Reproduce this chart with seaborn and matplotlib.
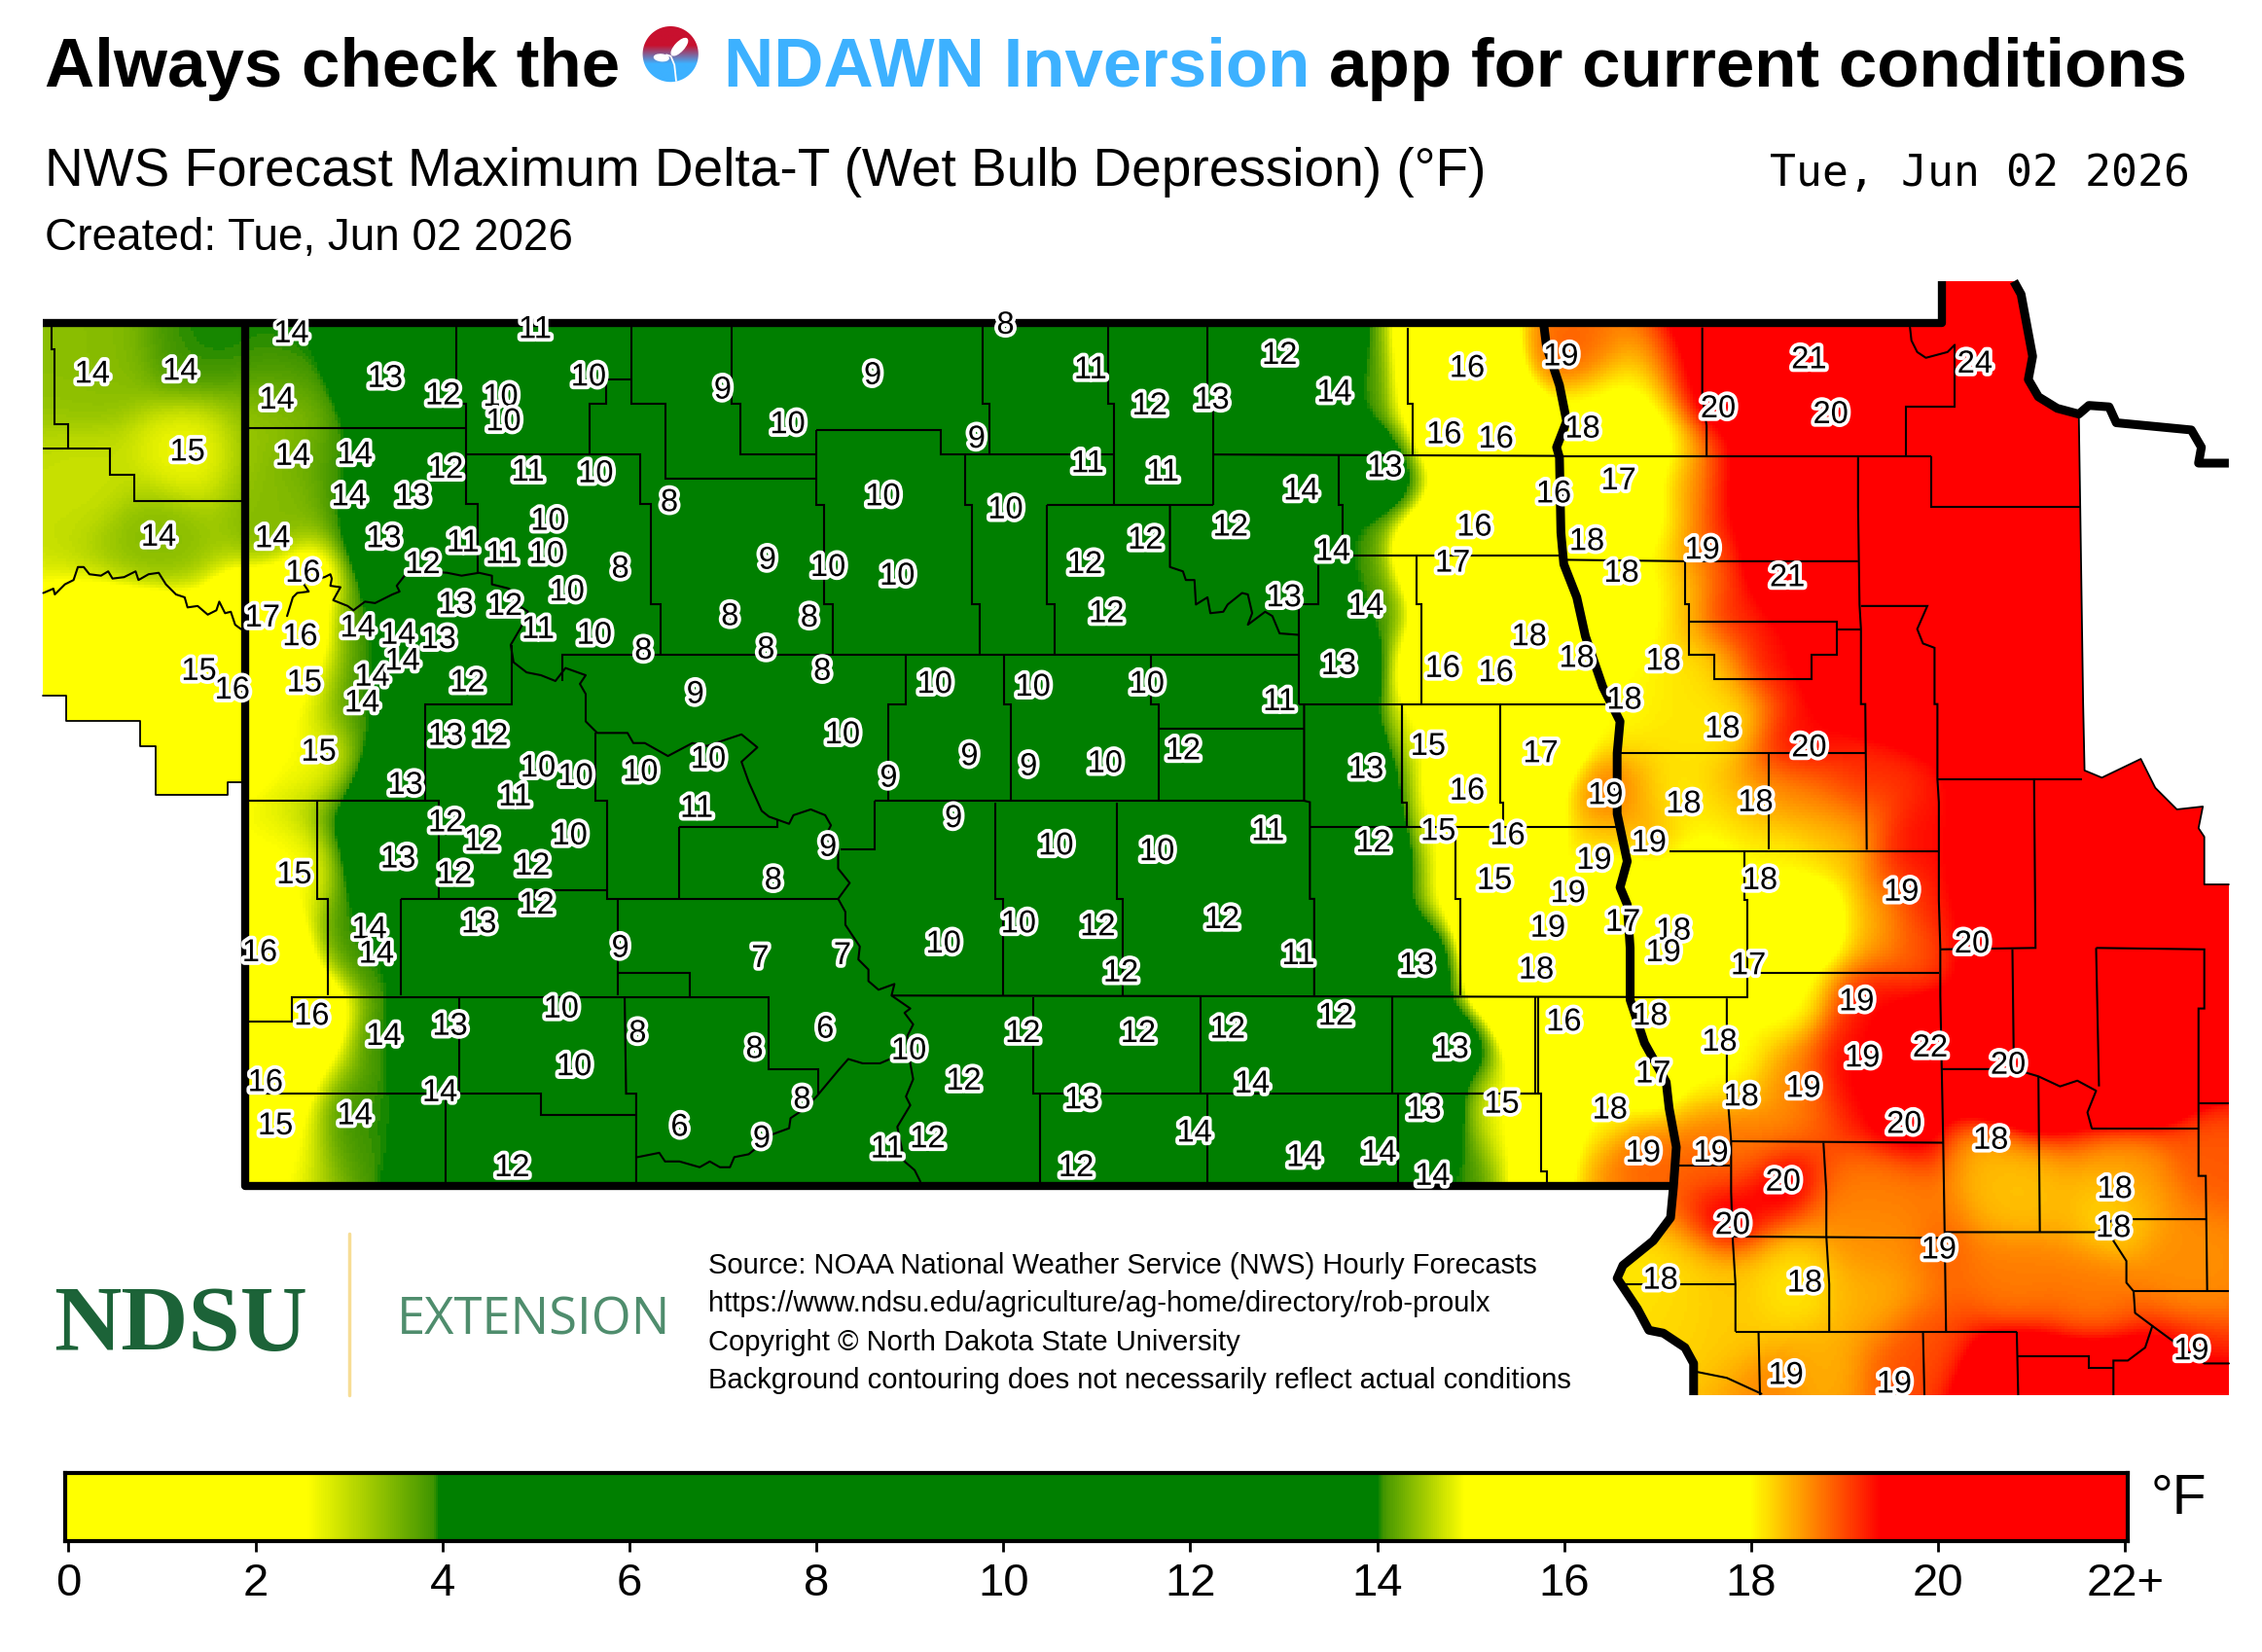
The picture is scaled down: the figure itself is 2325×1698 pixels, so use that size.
import numpy as np
import pandas as pd
import matplotlib
matplotlib.use('Agg')
import matplotlib.pyplot as plt
import matplotlib.patheffects as pe
from matplotlib.colors import LinearSegmentedColormap, to_rgb
from matplotlib.patches import Ellipse
from matplotlib.path import Path
import seaborn as sns

W, H = 1568, 1145

# -------------------------------------------------------------
# station forecasts (label position and delta-T)
# -------------------------------------------------------------
stn_x = [64,125,130,110,138,161,
         202,192,267,307,347,349,371,408,203,246,242,286,309,366,413,464,189,266,293,321,348,379,380,430,
         210,182,208,248,276,304,316,350,393,373,412,446,211,258,279,251,324,221,309,340,281,373,399,357,
         444,491,483,482,309,334,395,276,315,369,204,372,332,256,261,180,430,527,584,216,266,312,389,442,
         398,523,572,184,191,246,305,471,528,556,355,
         501,605,546,677,697,756,797,840,887,925,754,806,612,697,532,574,622,506,561,531,570,752,794,853,
         902,960,767,890,924,947,928,648,716,795,887,584,672,713,766,820,947,616,661,574,536,732,802,879,
         952,706,761,847,654,777,900,982,630,709,789,851,926,1006,668,868,750,828,987,1041,615,643,746,904,956,993,
         1017,1001,1037,1022,1007,1060,1000,1037,990,1017,1068,997,1045,1036,1087,1105,1113,1073,1065,1084,1116,1139,
         1082,1097,1122,1077,1100,1124,1180,1239,1093,1153,1126,1194,1254,1167,1217,1143,1220,1318,1125,1160,1153,1212,
         1367,1287,1144,1192,1146,1291,1338,1392,1207,1250,1320,1380,1186,1236,1201,1466,1465,1344,1151,1251,1519,1238,1313,
         1254,1191,1269,1369]
stn_y = [259,257,313,372,465,478,
         231,277,262,274,275,292,228,261,316,315,344,344,325,327,328,348,373,373,391,376,384,384,361,394,
         397,428,441,435,440,443,419,420,410,436,440,451,473,469,458,487,473,521,510,510,544,532,538,552,
         535,526,560,481,570,583,579,595,606,600,606,627,640,644,661,660,657,664,662,704,718,711,699,716,
         739,727,713,750,780,773,757,781,789,762,809,
         270,260,294,304,225,256,281,277,246,272,321,327,344,353,388,393,399,427,428,450,465,391,374,365,
         340,324,425,414,382,420,461,474,476,474,486,509,524,531,529,520,533,539,567,587,610,586,590,576,
         584,640,642,637,654,674,662,669,728,716,716,713,704,727,749,751,762,785,769,765,796,789,809,802,799,815,
         255,301,304,365,390,441,463,466,517,548,522,576,579,610,619,596,551,643,672,708,769,799,
         247,297,333,342,375,397,381,400,456,458,485,505,518,557,556,584,610,618,639,645,660,669,
         654,694,704,722,744,733,726,738,760,754,779,790,799,819,849,824,851,866,887,889,936,953,959,
         249,283,287,252]
stn_val = [14,14,15,14,15,16,
           14,14,13,12,10,10,11,10,14,14,14,13,12,11,10,8,14,13,12,11,11,10,10,8,
           16,17,16,14,14,13,13,12,10,11,10,8,15,14,14,14,12,15,13,12,13,10,10,11,
           10,10,11,9,12,12,10,13,12,12,15,12,13,14,14,16,9,7,7,16,14,13,10,8,
           10,8,6,16,15,14,14,6,9,8,12,
           9,9,10,9,8,11,12,13,12,14,11,11,10,10,9,10,10,8,8,8,8,12,12,12,
           14,13,12,13,14,14,13,10,10,10,11,10,9,9,10,12,13,9,9,9,8,10,10,11,
           12,10,12,12,10,12,11,13,10,12,12,12,12,13,12,14,13,14,13,15,11,12,12,14,14,14,
           16,16,16,16,17,18,16,16,15,16,17,15,16,15,19,19,19,19,18,16,18,19,
           19,18,17,16,18,18,19,21,18,18,18,18,20,18,18,19,18,19,17,18,19,17,
           20,19,18,18,17,19,22,20,18,19,20,18,19,20,20,18,18,19,18,18,19,19,19,
           21,20,20,24]

# points with no label that steer the background shading
fld_x = [150,60,50,110,130,60,100,190,190,
         1400,1500,1450,1420,1300,1300,1400,1500,1400,1480,1250,1300,1240,1520,
         1300,1400,1480,1300,1400,1450,1520,1260,1330,1200,1170,1530,1400,1450,1500,
         1254,1241,1200,1241,1207,1300,1286,1300,1342,1270,1180,1240,1330,
         1140,1140,1170,1207,1140,1165,1200,1183,1231,1200,1241,1240,1281,1329,1270,
         1130,1100,1080,1150,1240,1300]
fld_y = [235,262,235,372,313,330,450,300,345,
         350,620,650,480,330,450,620,720,745,745,230,240,340,650,
         830,825,810,900,890,900,880,950,935,905,900,800,960,965,965,
         640,693,738,753,783,700,740,640,633,580,610,590,650,
         320,350,340,345,420,420,430,458,458,500,515,550,545,588,560,
         620,620,660,650,895,860]
fld_val = [14.0,14.5,14.4,14.45,14.9,14.7,16,14.5,14.4,
           23,21,21,22,22,22,21,21,21,21,21,22,21,21,
           18.7,18.3,18.5,18.4,18.7,18.7,18.6,18.4,19,18.3,18.2,18.9,20.5,20.5,20,
           17,17.8,17.8,18.6,18.8,19.5,19.6,18.3,19.4,18.2,17.8,18,18.8,
           17.5,17.5,18.7,19.5,17.5,18.4,19.4,18,19.4,18,19.4,18.6,19.4,19.4,18.5,
           17.6,17.5,17.5,17.5,18.1,18.6]

cbar_ticks = [0,2,4,6,8,10,12,14,16,18,20,22]
cbar_tick_labels = ['0','2','4','6','8','10','12','14','16','18','20','22+']

source_lines = ['Source: NOAA National Weather Service (NWS) Hourly Forecasts',
                'https://www.ndsu.edu/agriculture/ag-home/directory/rob-proulx',
                'Copyright © North Dakota State University',
                'Background contouring does not necessarily reflect actual conditions']

# -------------------------------------------------------------
# map outlines
# -------------------------------------------------------------
red_river = [(1070,224),(1072,240),(1081,267),(1086,292),(1079,310),(1081,317),(1082,369),(1084,391),(1093,414),(1099,441),
             (1111,476),(1123,500),(1121,522),(1121,564),(1128,597),(1123,615),(1128,627),(1130,657),(1130,693),(1140,723),
             (1155,750),(1157,768),(1162,795),(1160,823),(1158,844),(1146,860),(1125,877),(1121,886),(1135,907),(1143,922),
             (1153,924),(1168,934),(1174,945),(1174,967)]
ne_border = [(1396,195),(1401,204),(1409,247),(1406,263),(1413,275),(1426,283),(1441,287),(1448,281),(1462,282),(1467,293),
             (1519,298),(1526,310),(1524,321),(1545,321)]
nd_border = [(30,224),(1346,224),(1346,195)]
nd_west = [(170,224),(170,822),(1160,822)]
map_edge = [(30,224),(1346,224),(1346,195),(1396,195),(1401,204),(1409,247),(1406,263),(1413,275),(1426,283),(1441,287),
            (1442,351),(1444,487),(1445,534),(1457,539),(1484,526),(1494,546),(1509,561),(1527,559),(1524,574),(1528,580),
            (1528,613),(1545,613),(1545,967),(1174,967),(1174,945),(1168,934),(1153,924),(1143,922),(1135,907),(1121,886),
            (1125,877),(1146,860),(1158,844),(1160,822),(170,822),(170,542),(158,542),(158,551),(108,551),(108,517),(97,517),
            (97,500),(46,500),(46,482),(30,482)]
thin_edge = map_edge[9:22]
mt_edge = map_edge[-10:-1] + [(30,482)]

county_lines = [
    [(36,226),(36,242),(38,242),(38,294),(47,294),(47,311)],
    [(30,311),(76,311),(76,329),(93,329),(93,347),(167,347)],
    [(172,297),(323,297)],
    [(316,226),(316,280),(323,280),(323,349),(331,349),(331,398)],
    [(323,315),(444,315),(444,349),(451,349),(451,419),(458,419),(458,454)],
    [(409,315),(409,280),(420,280),(420,263),(438,263)],
    [(438,226),(438,280),(461,280),(461,332),(566,332)],
    [(507,226),(507,280),(513,280),(513,315),(566,315)],
    [(566,298),(652,298),(652,315),(772,315)],
    [(566,298),(566,350),(571,350),(571,419),(577,419),(577,454)],
    [(681,226),(681,280),(686,280),(686,315)],
    [(669,315),(669,350),(674,350),(674,419),(679,419),(679,454)],
    [(768,226),(768,280),(772,280),(772,350)],
    [(726,350),(841,350)],
    [(726,350),(726,419),(731,419),(731,454)],
    [(837,226),(837,282),(841,282),(841,350)],
    [(841,315),(1080,316)],
    [(928,315),(928,350),(931,350),(931,385)],
    [(931,385),(1082,385)],
    [(902,419),(914,419),(914,392)],
    [(900,420),(900,488)],
    [(390,472),(390,454),(900,454)],
    [(982,385),(982,419),(985,419),(985,488)],
    [(900,488),(1113,488)],
    [(1040,488),(1040,556),(1042,556),(1042,573)],
    [(976,227),(976,280),(979,280),(979,315)],
    [(628,454),(628,488),(616,488),(616,555)],
    [(696,454),(696,488),(701,488),(701,555)],
    [(798,454),(798,488),(803,488),(803,555)],
    [(803,505),(904,505)],
    [(904,488),(904,555),(908,556),(908,623),(911,623),(911,690)],
    [(972,488),(972,556),(975,556),(975,573)],
    [(908,573),(1121,573)],
    [(1009,573),(1009,623),(1012,623),(1012,690)],
    [(618,690),(1127,691)],
    [(1066,691),(1066,758),(1068,758),(1068,812),(1072,812),(1072,821)],
    [(1012,758),(1068,758)],
    [(716,691),(716,758),(1064,758),(1064,691)],
    [(832,691),(832,758)],
    [(965,691),(965,758)],
    [(721,758),(721,820)],
    [(837,758),(837,820)],
    [(969,758),(969,820)],
    [(606,555),(904,555)],
    [(583,589),(606,589),(606,555)],
    [(690,556),(690,623),(695,623),(695,690)],
    [(774,556),(774,623),(778,623),(778,690)],
    [(278,623),(371,623),(371,617),(421,617),(421,623),(581,623)],
    [(471,573),(471,623)],
    [(471,573),(539,573),(539,568)],
    [(413,508),(413,555),(421,555),(421,617)],
    [(428,623),(428,690)],
    [(172,555),(304,555),(304,623)],
    [(355,447),(355,488),(295,488),(295,555)],
    [(220,555),(220,623),(227,623),(227,690)],
    [(278,623),(278,690)],
    [(172,708),(202,708),(202,691),(433,691),(478,691),(478,674),(428,674)],
    [(478,691),(533,691),(533,741),(567,741),(567,758)],
    [(318,691),(318,758)],
    [(172,758),(375,758),(375,773),(441,773)],
    [(309,758),(309,820)],
    [(433,691),(434,758),(441,758),(441,820)],
    # minnesota
    [(1180,227),(1180,274),(1183,295),(1183,316)],
    [(1080,316),(1339,316)],
    [(1321,316),(1321,282),(1355,282),(1355,239)],
    [(1288,317),(1288,351),(1289,419),(1290,436),(1290,488),(1293,488),(1294,589)],
    [(1339,316),(1339,351),(1442,351)],
    [(1086,388),(1168,389),(1288,389)],
    [(1168,389),(1168,419),(1171,419),(1171,454),(1188,454),(1188,471),(1256,471),(1256,454),(1273,454),(1273,431),(1171,431)],
    [(1273,436),(1290,436)],
    [(1290,420),(1336,420),(1329,436),(1333,446),(1341,449),(1341,488),(1343,488),(1343,540),(1344,556),(1344,624),
     (1345,657),(1345,690),(1346,741),(1347,791),(1348,854),(1349,923)],
    [(1343,540),(1443,540)],
    [(1410,540),(1411,657),(1345,658)],
    [(1395,658),(1396,741),(1346,741)],
    [(1453,657),(1528,658),(1528,699),(1524,699),(1524,815),(1529,815),(1530,895)],
    [(1453,657),(1455,753)],
    [(1524,765),(1545,765)],
    [(1450,782),(1524,782)],
    [(1413,746),(1414,854)],
    [(1348,854),(1454,854),(1465,845),(1529,845)],
    [(1479,895),(1545,895)],
    [(1487,934),(1475,943),(1465,943),(1465,967)],
    [(1398,923),(1399,967)],
    [(1399,940),(1448,940),(1448,948),(1465,948)],
    [(1203,923),(1398,923)],
    [(1333,923),(1334,967)],
    [(1219,923),(1220,967)],
    [(1200,857),(1349,858)],
    [(1200,791),(1347,792)],
    [(1264,792),(1266,826),(1266,857),(1268,890),(1268,923)],
    [(1197,692),(1197,753),(1200,791),(1200,826),(1201,857),(1203,890),(1203,923)],
    [(1123,890),(1203,890)],
    [(1160,808),(1199,808)],
    [(1209,591),(1209,624),(1211,624),(1211,691)],
    [(1127,691),(1212,691)],
    [(1219,674),(1344,674)],
    [(1157,590),(1344,590)],
    [(1226,522),(1226,589)],
    [(1123,522),(1293,522)],
]
# rivers used as county lines
river_lines = [
    [(30,411),(37,408),(38,412),(45,405),(51,402),(54,393),(58,393),(62,398),(70,399),(75,396),(78,401),(86,400),(94,396),(96,402),
     (103,398),(110,397),(115,405),(122,412),(128,414),(130,421),(137,420),(144,426),(150,423),(152,417),(156,425),(160,424),(163,433),(167,436)],
    [(199,427),(203,414),(206,411),(214,410),(210,404),(225,400),(229,398),(230,401),(229,406),(236,407),(231,416),(241,420),(245,423),
     (253,417),(260,418),(272,412),(277,410),(275,406),(282,397),(296,396),(310,397),(320,399),(332,397),(341,399),(341,405),(353,408),
     (354,416),(366,424),(361,435),(354,447),(356,459),(365,466),(375,468),(385,472),(392,463),(406,468),(402,474),(406,481),(406,500),
     (414,508),(435,508),(439,515),(447,515),(463,524),(480,515),(490,517),(514,509),(525,518),(514,528),(519,542),(528,562),(533,566),
     (547,571),(550,565),(562,561),(572,565),(576,572),(572,580),(581,589),(581,602),(589,612),(581,623),(586,632),(586,641),(596,656),
     (595,665),(602,672),(602,680),(609,686),(620,682),(618,690),(631,699),(627,702),(633,710),(629,718),(631,737),(633,748),(628,760),
     (631,766),(622,781),(627,805),(634,811),(638,819)],
    [(617,734),(610,737),(598,737),(588,734),(581,742),(571,754),(566,760),(557,769),(548,775),(547,782),(536,786),(519,800),(509,802),
     (506,809),(499,809),(492,805),(485,809),(471,805),(461,805),(457,799),(442,802)],
    [(811,350),(811,393),(820,396),(822,402),(828,402),(829,419),(837,414),(839,425),(848,424),(851,419),(861,411),(865,412),(868,425),
     (865,433),(877,424),(882,427),(887,439),(900,440)],
    [(1324,227),(1325,236),(1329,244),(1335,248),(1350,244),(1355,239)],
    [(1396,741),(1413,746),(1428,753),(1440,749),(1453,756),(1447,771),(1450,782)],
    [(1465,845),(1465,860),(1474,874),(1474,889),(1479,895),(1480,910),(1492,919),(1507,930),(1528,945),(1545,945)],
    [(1492,919),(1487,934)],
    [(1177,951),(1197,955),(1221,966)],
]

# colour scale of the product
cmap_nodes = [(0,'#ffff00'),(2.55,'#ffff00'),(3.9,'#3f9400'),(3.96,'#007f00'),(14.0,'#007f00'),(14.06,'#3f9400'),
              (14.95,'#ffff00'),(18.0,'#ffff00'),(19.4,'#ff0000'),(22,'#ff0000')]
cmap = LinearSegmentedColormap.from_list('deltat', [(v/22, to_rgb(c)) for v, c in cmap_nodes], N=1024)

sns.set_style('white')
plt.rcParams['font.family'] = ['Liberation Sans', 'DejaVu Sans']
plt.rcParams['text.color'] = 'black'

fig = plt.figure(figsize=(23.25, 16.98), dpi=100)

# overlay axes in reference coordinates
ax = fig.add_axes([0, 0, 1, 1], zorder=3)
ax.set_xlim(0, W)
ax.set_ylim(H, 0)
ax.set_axis_off()
ax.patch.set_alpha(0)

# -------------------------------------------------------------
# background shading: distance weighted field of the stations
# -------------------------------------------------------------
MX0, MX1, MY0, MY1 = 30, 1545, 195, 967
gx = np.arange(MX0, MX1, 2) + 1.0
gy = np.arange(MY0, MY1, 2) + 1.0
XX, YY = np.meshgrid(gx, gy)

px = np.array(stn_x + fld_x, dtype=float)
py = np.array(stn_y + fld_y, dtype=float)
pv = np.array(stn_val + fld_val, dtype=float)
pw = np.array([1.0]*len(stn_x) + [4.0]*len(fld_x))

d2 = (XX[..., None] - px)**2 + (YY[..., None] - py)**2
wgt = pw / (d2 + 42.0**2)**3
field = (wgt * pv).sum(axis=-1) / wgt.sum(axis=-1)

ax_map = fig.add_axes([MX0/W, 1 - MY1/H, (MX1-MX0)/W, (MY1-MY0)/H], zorder=1)
sns.heatmap(pd.DataFrame(field), cmap=cmap, vmin=0, vmax=22, cbar=False, ax=ax_map,
            xticklabels=False, yticklabels=False, rasterized=True)
ax_map.set_axis_off()
ax_map.collections[0].set_clip_path(Path(map_edge + [map_edge[0]]), ax.transData)

for line in county_lines:
    xs, ys = zip(*line)
    ax.plot(xs, ys, color='black', lw=1.5, solid_joinstyle='miter', solid_capstyle='butt')
for line in river_lines:
    xs, ys = zip(*line)
    ax.plot(xs, ys, color='black', lw=1.5, solid_joinstyle='round')
for line in [thin_edge, mt_edge]:
    xs, ys = zip(*line)
    ax.plot(xs, ys, color='black', lw=1.3)

for line, lw in [(nd_border, 6), (nd_west, 6), (red_river, 6.5), (ne_border, 6.5)]:
    xs, ys = zip(*line)
    ax.plot(xs, ys, color='black', lw=lw, solid_joinstyle='round', solid_capstyle='butt')

# station labels
outline = [pe.withStroke(linewidth=5.5, foreground='white')]
for x, y, v in zip(stn_x, stn_y, stn_val):
    ax.text(x, y + 0.5, str(v), ha='center', va='center', fontsize=23.5, color='black', path_effects=outline)

# -------------------------------------------------------------
# header
# -------------------------------------------------------------
ax.text(31, 60, 'Always check the', fontsize=51, fontweight='bold')
ax.text(502, 60, 'NDAWN Inversion', fontsize=51, fontweight='bold', color='#3db1ff')
ax.text(921, 60, 'app for current conditions', fontsize=51, fontweight='bold')
ax.text(31, 129, 'NWS Forecast Maximum Delta-T (Wet Bulb Depression) (°F)', fontsize=39.6)
ax.text(1518, 129, 'Tue, Jun 02 2026', fontsize=32.2, family='DejaVu Sans Mono', ha='right')
ax.text(31, 173, 'Created: Tue, Jun 02 2026', fontsize=33)

# app icon
grad = np.linspace(0, 1, 64)[:, None]
icon_cmap = LinearSegmentedColormap.from_list('icon', ['#c8102e', '#c8102e', '#3db1ff', '#3db1ff'])
im = ax.imshow(grad, extent=(445, 485, 57, 18), cmap=icon_cmap, aspect='auto', zorder=2)
theta = np.linspace(0, 2*np.pi, 80)
im.set_clip_path(Path(np.c_[464.8 + 19.3*np.cos(theta), 37.5 + 19.3*np.sin(theta)]), ax.transData)
ax.set_xlim(0, W)
ax.set_ylim(H, 0)
ax.add_patch(Ellipse((471, 32.5), 15, 6, angle=-47, color='white', zorder=3))
ax.add_patch(Ellipse((458.5, 40), 10, 4.5, angle=5, color='white', zorder=3))
ax.plot([462, 465, 467.5, 468.7], [38, 39, 45, 56], color='white', lw=1.3, zorder=3)

# -------------------------------------------------------------
# logo and notes
# -------------------------------------------------------------
ax.text(37, 936, 'NDSU', fontsize=69, family='Liberation Serif', fontweight='bold', color='#1c6338')
ax.plot([242, 242], [855, 967], color='#f7dd95', lw=2.5)
ax.text(275, 925, 'EXTENSION', fontsize=37.8, family='Open Sans', color='#4f8d6d')
for txt, y in zip(source_lines, [883, 909, 936, 962]):
    ax.text(491, y, txt, fontsize=20.95, color='black')

# -------------------------------------------------------------
# colour bar
# -------------------------------------------------------------
BX0, BX1, BY0, BY1 = 45.5, 1475, 1021, 1068
V_PER_X = 1 / 64.8
ax_cb = fig.add_axes([BX0/W, 1 - BY1/H, (BX1-BX0)/W, (BY1-BY0)/H], zorder=2)
ramp = np.linspace((BX0-47.5)*V_PER_X, (BX1-47.5)*V_PER_X, 1024)[None, :]
sns.heatmap(ramp, cmap=cmap, vmin=0, vmax=22, cbar=False, ax=ax_cb, xticklabels=False, yticklabels=False)
for s in ax_cb.spines.values():
    s.set_visible(True)
    s.set_linewidth(3)
    s.set_color('black')
ax_cb.set_xticks([(t/V_PER_X + 47.5 - BX0)/(BX1-BX0)*1024 for t in cbar_ticks])
ax_cb.set_xticklabels(cbar_tick_labels, fontsize=34)
ax_cb.set_yticks([])
ax_cb.tick_params(axis='x', length=8, width=2, bottom=True, pad=8, colors='black', rotation=0)
ax.text(1491, 1049, '°F', fontsize=41)

fig.savefig('out.png', dpi=100)
